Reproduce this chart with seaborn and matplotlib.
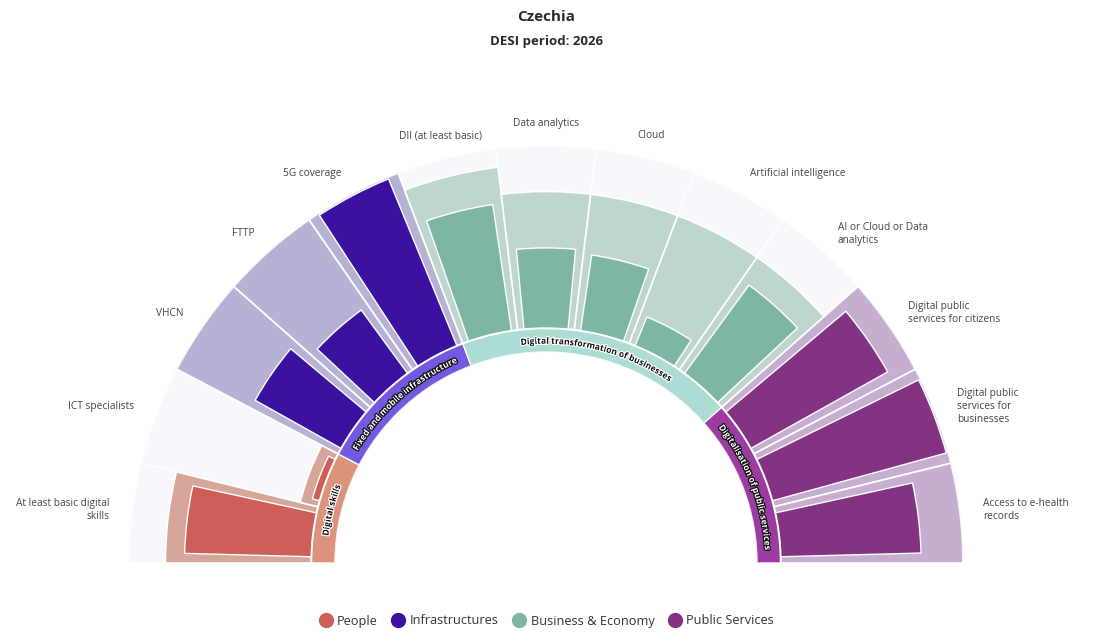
import numpy as np
import matplotlib
matplotlib.use("Agg")
import matplotlib.pyplot as plt
import matplotlib.patheffects as pe
from matplotlib.lines import Line2D
from matplotlib.font_manager import FontProperties
import seaborn as sns

# ---- data ----
indicators = [
    "At least basic digital\nskills", "ICT specialists", "VHCN", "FTTP", "5G coverage",
    "DII (at least basic)", "Data analytics", "Cloud", "Artificial intelligence",
    "AI or Cloud or Data\nanalytics", "Digital public\nservices for citizens",
    "Digital public\nservices for\nbusinesses", "Access to e-health\nrecords",
]
pillar_of = ["People", "People",
             "Infrastructures", "Infrastructures", "Infrastructures",
             "Business & Economy", "Business & Economy", "Business & Economy",
             "Business & Economy", "Business & Economy",
             "Public Services", "Public Services", "Public Services"]
values = [69.5, 4.0, 54, 43, 99, 70, 44, 42, 17, 60, 86, 99, 77]
targets = [80, 10, 100, 100, 100, 90, 75, 75, 75, 75, 100, 100, 100]

pillars = ["People", "Infrastructures", "Business & Economy", "Public Services"]
dimensions = ["Digital skills", "Fixed and mobile infrastructure",
              "Digital transformation of businesses", "Digitalisation of public services"]

dark = {"People": "#cd5f58", "Infrastructures": "#3b12a0",
        "Business & Economy": "#7eb6a6", "Public Services": "#843382"}
light = {"People": "#d6a69b", "Infrastructures": "#b6b2d4",
         "Business & Economy": "#bfd6cd", "Public Services": "#c6aed0"}
ring = {"People": "#dc937e", "Infrastructures": "#7459e0",
        "Business & Economy": "#acdcd3", "Public Services": "#9c3ca2"}
ring_text_dark = {"People": True, "Infrastructures": False,
                  "Business & Economy": True, "Public Services": False}

sns.set_theme(style="white")
plt.rcParams["font.family"] = ["Open Sans", "DejaVu Sans"]

fig = plt.figure(figsize=(11.03, 6.37), dpi=100)
# polar axes keeps a square box; the half disc sits in its middle half
R = 417
ax = fig.add_axes([129 / 1103, (637 - 563 - 0.5 * R) / 637, 2 * R / 1103, 2 * R / 637],
                  projection="polar")
ax.set_thetamin(0)
ax.set_thetamax(180)
ax.set_rorigin(-129.1)
ax.set_ylim(-13.2, 100)

n = len(indicators)
step = np.pi / n
theta = np.pi - (np.arange(n) + 0.5) * step
px_per_unit = R / (100 + 129.1)

# background, target and value bars
ax.bar(theta, [100] * n, width=step, bottom=0, color="#f7f8fc", edgecolor="white", linewidth=1)
ax.bar(theta, targets, width=step, bottom=0, color=[light[p] for p in pillar_of],
       edgecolor="white", linewidth=1.2)
ax.bar(theta, values, width=step * 0.78, bottom=0, color=[dark[p] for p in pillar_of],
       edgecolor="white", linewidth=1)

# inner ring with dimensions
renderer = fig.canvas.get_renderer()
ring_fp = FontProperties(family=["Open Sans", "DejaVu Sans"], weight="bold", size=6.3)


def text_w(s):
    if not s:
        return 0.0
    return renderer.get_text_width_height_descent(s, ring_fp, ismath=False)[0]


def arc_text(s, th_c, r_mid_px, color, halo):
    total = text_w(s)
    r_base = (r_mid_px - 3.2 - 235) / px_per_unit
    for k, ch in enumerate(s):
        if ch == " ":
            continue
        mid = text_w(s[:k + 1]) - text_w(ch) / 2
        ang = th_c + (total / 2 - mid) / r_mid_px
        ax.text(ang, r_base, ch, rotation=np.degrees(ang) - 90, rotation_mode="anchor",
                ha="center", va="baseline", fontproperties=ring_fp, color=color,
                path_effects=[pe.withStroke(linewidth=1.8, foreground=halo)])


for p, dim in zip(pillars, dimensions):
    idx = [i for i, q in enumerate(pillar_of) if q == p]
    th = theta[idx].mean()
    ax.bar(th, 12.9, width=step * len(idx), bottom=-13.2, color=ring[p],
           edgecolor="white", linewidth=1)
    if ring_text_dark[p]:
        arc_text(dim, th, 222.5, "#111111", "white")
    else:
        arc_text(dim, th, 222.5, "white", "#111111")

# indicator labels
r_lab = (440 - 235) / px_per_unit
for th, lab in zip(theta, indicators):
    c = np.cos(th)
    ha = "center" if abs(c) < 0.3 else ("right" if c < 0 else "left")
    ax.text(th, r_lab, lab, ha=ha, va="center", multialignment=ha,
            fontsize=7.3, color="#444444", linespacing=1.25)

ax.set_axis_off()

# titles
fig.text(546 / 1103, 1 - 17 / 637, "Czechia", ha="center", va="center",
         fontsize=11, fontweight="bold", color="#2a2a2a")
fig.text(546 / 1103, 1 - 42 / 637, "DESI period: 2026", ha="center", va="center",
         fontsize=9.5, fontweight="bold", color="#2a2a2a")

# legend
handles = [Line2D([], [], marker="o", linestyle="", markersize=10,
                  markerfacecolor=dark[p], markeredgecolor=dark[p], label=p) for p in pillars]
fig.legend(handles=handles, loc="center", bbox_to_anchor=(546 / 1103, 1 - 621 / 637),
           ncol=4, frameon=False, fontsize=9.2, handletextpad=0.3, columnspacing=1.0,
           handlelength=1.2, labelcolor="#333333")

fig.savefig("out.png", dpi=100)
